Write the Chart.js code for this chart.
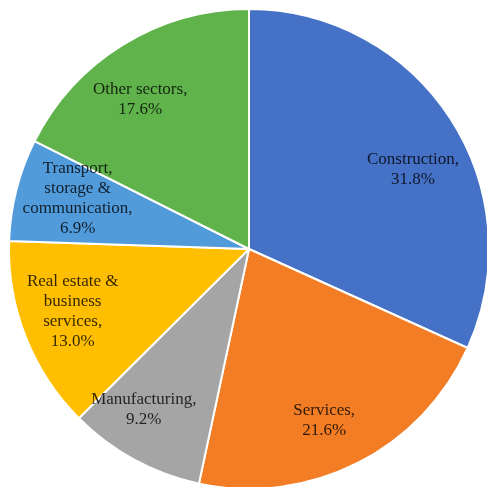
<!DOCTYPE html>
<html>
<head>
<meta charset="utf-8">
<script src="https://cdn.jsdelivr.net/npm/chart.js@4/dist/chart.umd.min.js"></script>
<style>
  html, body { margin: 0; padding: 0; background: #ffffff; overflow: hidden; }
  #wrap { width: 487px; height: 487px; }
</style>
</head>
<body>
<div id="wrap"><canvas id="pie" width="487" height="487"></canvas></div>
<script>
// Share of total by sector (%)
const categories = [
  "Construction",
  "Services",
  "Manufacturing",
  "Real estate & business services",
  "Transport, storage & communication",
  "Other sectors"
];
const shares = [31.8, 21.6, 9.2, 13.0, 6.9, 17.6];
const sliceColors = ["#4571C6", "#F37D24", "#A5A5A5", "#FFBF00", "#529BDB", "#60B24B"];

// Where each label sits inside its slice: fraction along the arc, fraction of the radius
const labelArcPos = [0.56, 0.54, 0.64, 0.54, 0.59, 0.43];
const labelRadPos = [0.76, 0.78, 0.80, 0.78, 0.745, 0.77];

const LABEL_FONT = '17px "Liberation Serif", "Times New Roman", serif';
const LINE_HEIGHT = 20;
const WRAP_WIDTH = 100;

function wrapWords(ctx, text, maxWidth) {
  const words = text.split(" ");
  const lines = [];
  let cur = "";
  for (const w of words) {
    const trial = cur ? cur + " " + w : w;
    if (cur && ctx.measureText(trial).width > maxWidth) {
      lines.push(cur);
      cur = w;
    } else {
      cur = trial;
    }
  }
  if (cur) lines.push(cur);
  return lines;
}

const sliceLabels = {
  id: "sliceLabels",
  afterDatasetsDraw(chart) {
    const ctx = chart.ctx;
    const meta = chart.getDatasetMeta(0);
    const values = chart.data.datasets[0].data;
    ctx.save();
    ctx.font = LABEL_FONT;
    ctx.textAlign = "center";
    ctx.textBaseline = "middle";
    ctx.fillStyle = "rgba(0,0,0,0.8)";
    meta.data.forEach((arc, i) => {
      const p = arc.getProps(["x", "y", "startAngle", "endAngle", "outerRadius"], true);
      const ang = p.startAngle + (p.endAngle - p.startAngle) * labelArcPos[i];
      const r = p.outerRadius * labelRadPos[i];
      const cx = p.x + Math.cos(ang) * r;
      const cy = p.y + Math.sin(ang) * r;
      const lines = wrapWords(ctx, chart.data.labels[i] + ",", WRAP_WIDTH);
      lines.push(values[i].toFixed(1) + "%");
      const top = cy - (lines.length - 1) * LINE_HEIGHT / 2;
      lines.forEach((ln, k) => ctx.fillText(ln, cx, top + k * LINE_HEIGHT));
    });
    ctx.restore();
  }
};

new Chart(document.getElementById("pie"), {
  type: "pie",
  data: {
    labels: categories,
    datasets: [{
      data: shares,
      backgroundColor: sliceColors,
      borderColor: "#ffffff",
      borderWidth: 2,
      clip: false
    }]
  },
  options: {
    responsive: false,
    animation: false,
    radius: 240,
    layout: { padding: { left: 11, top: 11, right: 0, bottom: 0 } },
    plugins: {
      legend: { display: false },
      tooltip: { enabled: false }
    }
  },
  plugins: [sliceLabels]
});
</script>
</body>
</html>
